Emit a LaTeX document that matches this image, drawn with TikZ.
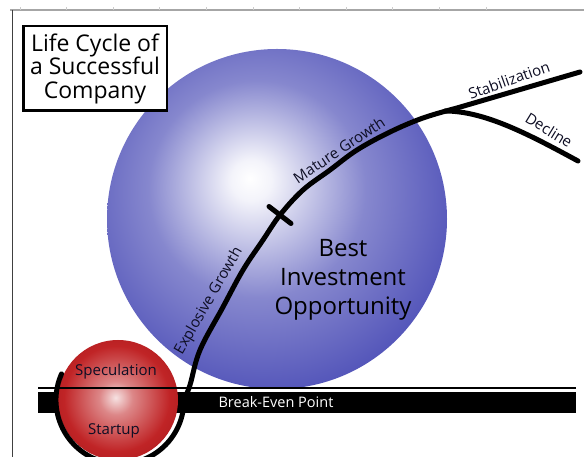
\documentclass[tikz,border=0pt]{standalone}
\usepackage{fontspec}
\setmainfont{Open Sans}
\definecolor{sphereblue}{RGB}{60,62,176}
\definecolor{redlight}{RGB}{246,226,226}
\definecolor{redmid}{RGB}{192,36,38}
\definecolor{reddark}{RGB}{132,10,14}
\definecolor{inkdark}{RGB}{14,14,36}
\pgfdeclareradialshading{bluesphere}{\pgfpoint{-4bp}{6bp}}{color(0bp)=(white); color(3bp)=(white!94!sphereblue); color(16bp)=(sphereblue!62!white); color(30bp)=(sphereblue!90!white); color(60bp)=(sphereblue)}
\pgfdeclareradialshading{redsphere}{\pgfpoint{-1bp}{1bp}}{color(0bp)=(redlight); color(7bp)=(redmid!55!white); color(22bp)=(redmid); color(50bp)=(reddark)}

\begin{document}
\begin{tikzpicture}[x=1pt, y=1pt,
    lifeline/.style = {line width=5pt, line cap=round},
    growthtext/.style = {font=\fontsize{15}{15}\selectfont, text=inkdark}]
    \useasboundingbox (0,0) rectangle (584,457);
    \draw[gray!70, line width=1.2pt] (10,447) -- (584,447);
    \draw[black!75, line width=1pt] (12,447) -- (12,0);
    \foreach \i in {0,...,10}
        \draw[gray!40, line width=0.8pt] (20+46.6*\i,447) -- ++(0,2.5);
    \shade[shading=bluesphere] (277,238) circle (170);
    \fill (38,44) rectangle (576,65);
    \shade[shading=redsphere] (118,57) circle (60);
    \draw[line width=2.5pt] (38,69) -- (576,69);
    \node[text=white, font=\fontsize{14.5}{14.5}\selectfont] (breakeven) at (276,54.5) {Break-Even Point};
    \node[draw, line width=2.5pt, fill=white, align=center, minimum width=143.5, minimum height=84.5,
        font=\fontsize{23}{23.5}\selectfont] (title) at (95,388.5) {Life Cycle of\\a Successful\\Company};
    \coordinate (start) at (61.5,83);
    \coordinate (mid) at (280,242);
    \coordinate (branch) at (457,349);
    \coordinate (stable) at (580,385);
    \coordinate (fall) at (578,296);
    \draw[lifeline] (start) arc[start angle=156, end angle=360, radius=64]
        -- plot[smooth, tension=0.6] coordinates {(184,57) (190,72) (200,107) (223,150) (243,187) (263,217) (280,242) (303,267) (330,287) (357,307) (390,325) (423,339) (457,349)}
        -- (stable);
    \draw[lifeline] (445,346) .. controls (485,346) and (530,322) .. (fall);
    \draw[lifeline] (mid) ++(-11,8.5) -- ++(22,-17);
    \node[growthtext, rotate=60] (explosive) at (209,156) {Explosive Growth};
    \node[growthtext, rotate=33.7] (mature) at (339,307) {Mature Growth};
    \node[growthtext, rotate=19.6] (stabilization) at (509,377) {Stabilization};
    \node[growthtext, rotate=-31.5] (decline) at (549,327) {Decline};
    \node[growthtext, anchor=base] (speculation) at (116,81) {Speculation};
    \node[growthtext, anchor=base] (startup) at (114,22) {Startup};
    \node[align=center, text=black, font=\fontsize{24}{29}\selectfont] (best) at (343,177) {Best\\Investment\\Opportunity};
\end{tikzpicture}
\end{document}
